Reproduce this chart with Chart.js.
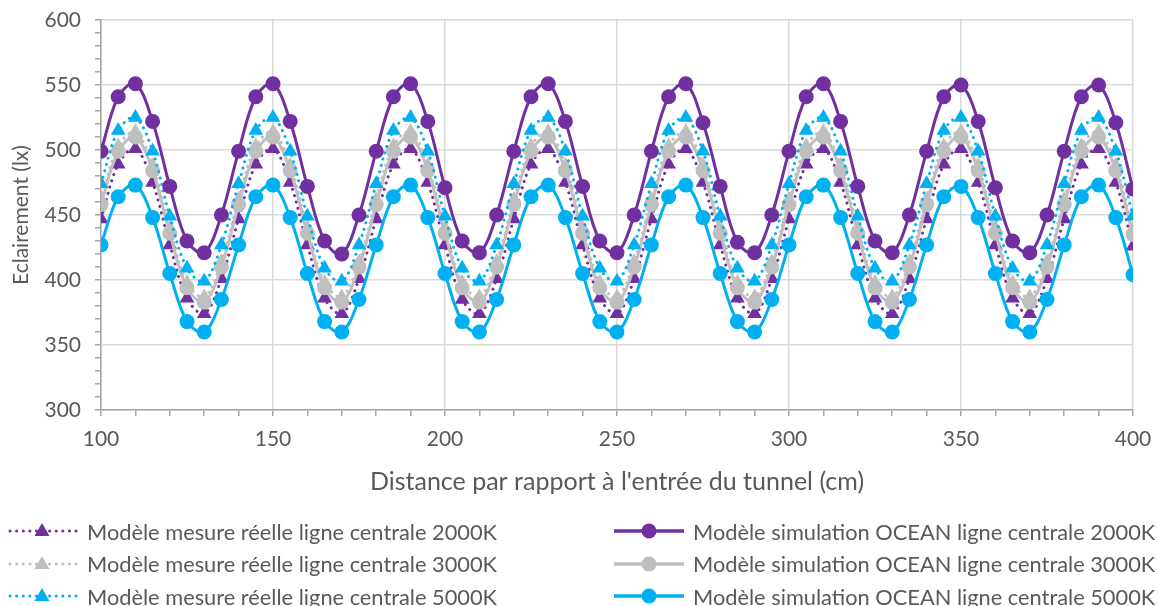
<!DOCTYPE html>
<html>
<head>
<meta charset="utf-8">
<script src="https://cdn.jsdelivr.net/npm/chart.js@4.4.0/dist/chart.umd.min.js"></script>
<style>
  body { margin: 0; background: #fff; width: 1158px; height: 606px; overflow: hidden; font-family: Lato, sans-serif; }
  #wrap { position: absolute; left: 0; top: 0; width: 1158px; height: 500px; }
  #legend { position: absolute; left: 0; top: 0; width: 1158px; height: 606px; }
  .item { position: absolute; display: flex; align-items: center; height: 30px; font-size: 21.8px; color: #595959; white-space: nowrap; }
  .item svg { margin-right: 5px; }
</style>
</head>
<body>
<div id="wrap"><canvas id="chart"></canvas></div>
<div id="legend"></div>
<script>
// distance from tunnel entrance (cm)
const distances = [100, 105, 110, 115, 120, 125, 130, 135, 140, 145, 150, 155, 160, 165, 170, 175,
  180, 185, 190, 195, 200, 205, 210, 215, 220, 225, 230, 235, 240, 245, 250, 255,
  260, 265, 270, 275, 280, 285, 290, 295, 300, 305, 310, 315, 320, 325, 330, 335,
  340, 345, 350, 355, 360, 365, 370, 375, 380, 385, 390, 395, 400];

// measured model, centre line
const mesure2000 = [447, 489, 501, 475, 427, 386, 374, 401, 447, 489, 501, 475, 427, 386, 374, 401,
  447, 489, 501, 475, 427, 385, 374, 401, 447, 489, 501, 475, 427, 386, 374, 401,
  447, 489, 501, 475, 427, 386, 374, 401, 447, 489, 501, 475, 427, 386, 374, 401,
  447, 489, 501, 475, 427, 386, 374, 401, 447, 489, 501, 475, 426];
const mesure3000 = [462, 503, 514, 488, 440, 398, 387, 414, 462, 503, 514, 488, 440, 398, 387, 414,
  462, 503, 514, 488, 440, 398, 387, 414, 462, 503, 514, 488, 440, 398, 387, 414,
  462, 503, 514, 488, 440, 398, 387, 414, 462, 503, 514, 488, 440, 398, 387, 414,
  462, 503, 514, 488, 440, 398, 387, 414, 462, 503, 514, 488, 439];
const mesure5000 = [474, 515, 525, 499, 449, 409, 399, 427, 474, 515, 525, 499, 449, 409, 399, 427,
  474, 515, 525, 499, 449, 409, 399, 427, 474, 515, 525, 499, 449, 409, 399, 427,
  474, 515, 525, 499, 449, 409, 399, 427, 474, 515, 525, 499, 449, 409, 399, 427,
  474, 515, 525, 499, 449, 409, 399, 427, 474, 515, 525, 499, 449];

// OCEAN simulation, centre line
const simulation2000 = [499, 541, 551, 522, 472, 430, 421, 450, 499, 541, 551, 522, 472, 430, 420, 450,
  499, 541, 551, 522, 471, 430, 421, 450, 499, 541, 551, 522, 472, 430, 421, 450,
  499, 541, 551, 521, 472, 429, 421, 450, 499, 541, 551, 522, 472, 430, 421, 450,
  499, 541, 550, 522, 471, 430, 421, 450, 499, 541, 550, 521, 470];
const simulation3000 = [458, 499, 510, 484, 436, 394, 383, 410, 458, 499, 510, 484, 436, 394, 383, 410,
  458, 499, 510, 484, 436, 394, 383, 410, 458, 499, 510, 484, 436, 394, 383, 410,
  458, 499, 510, 484, 436, 394, 383, 410, 458, 499, 510, 484, 436, 394, 383, 410,
  458, 499, 510, 484, 436, 394, 383, 410, 458, 499, 510, 484, 435];
const simulation5000 = [427, 464, 473, 448, 405, 368, 360, 385, 427, 464, 473, 448, 405, 368, 360, 385,
  427, 464, 473, 448, 405, 368, 360, 385, 427, 464, 473, 448, 405, 368, 360, 385,
  427, 464, 473, 448, 405, 368, 360, 385, 427, 464, 473, 448, 405, 368, 360, 385,
  427, 464, 472, 448, 405, 368, 360, 385, 427, 464, 473, 448, 404];

const purple = '#7030a0';
const gray = '#bfbfbf';
const blue = '#00b0f0';
const textColor = '#595959';

const toPoints = vals => vals.map((v, i) => ({ x: distances[i], y: v }));

function mesureSet(label, data, color, order) {
  return {
    label: label,
    data: toPoints(data),
    borderColor: color,
    backgroundColor: color,
    borderWidth: 3,
    borderDash: [0.1, 6.5],
    borderCapStyle: 'round',
    pointStyle: 'triangle',
    pointRadius: 8.5,
    pointBorderWidth: 0,
    pointBackgroundColor: color,
    tension: 0.35,
    order: order,
    kind: 'mesure'
  };
}
function simulationSet(label, data, color, order) {
  return {
    label: label,
    data: toPoints(data),
    borderColor: color,
    backgroundColor: color,
    borderWidth: 3,
    pointStyle: 'circle',
    pointRadius: 7.5,
    pointBorderWidth: 0,
    pointBackgroundColor: color,
    tension: 0.35,
    order: order,
    kind: 'simulation'
  };
}

const datasets = [
  mesureSet('Modèle mesure réelle ligne centrale 2000K', mesure2000, purple, 6),
  mesureSet('Modèle mesure réelle ligne centrale 3000K', mesure3000, gray, 5),
  mesureSet('Modèle mesure réelle ligne centrale 5000K', mesure5000, blue, 3),
  simulationSet('Modèle simulation OCEAN ligne centrale 2000K', simulation2000, purple, 2),
  simulationSet('Modèle simulation OCEAN ligne centrale 3000K', simulation3000, gray, 4),
  simulationSet('Modèle simulation OCEAN ligne centrale 5000K', simulation5000, blue, 1)
];

const majorGrid = ctx => (ctx.tick && ctx.tick.value % 50 === 0) ? '#d9d9d9' : 'rgba(0,0,0,0)';
const majorLabel = v => (v % 50 === 0 ? v : '');

const ctx = document.getElementById('chart').getContext('2d');
const chart = new Chart(ctx, {
  type: 'line',
  data: { datasets: datasets },
  options: {
    responsive: true,
    maintainAspectRatio: false,
    animation: false,
    layout: { padding: { top: 20, right: 25, left: 0, bottom: 0 } },
    plugins: { legend: { display: false }, tooltip: { enabled: false } },
    scales: {
      x: {
        type: 'linear',
        min: 100,
        max: 400,
        afterFit: s => { s.height = 90; s.paddingLeft = 0; s.paddingRight = 0; },
        ticks: { stepSize: 10, autoSkip: false, maxRotation: 0, callback: majorLabel,
                 color: textColor, font: { family: 'Lato', size: 21 }, padding: 11 },
        grid: { color: majorGrid, lineWidth: 1.5, tickLength: 6, tickColor: '#a6a6a6', tickWidth: 1.5 },
        border: { color: '#a6a6a6', width: 1.5 },
        title: { display: true, text: "Distance par rapport à l'entrée du tunnel (cm)",
                 color: textColor, font: { family: 'Lato', size: 25 }, padding: { top: 0, bottom: 3 } }
      },
      y: {
        min: 300,
        max: 600,
        afterFit: s => { s.width = 101; s.paddingTop = 0; s.paddingBottom = 0; },
        ticks: { stepSize: 10, autoSkip: false, callback: majorLabel,
                 color: textColor, font: { family: 'Lato', size: 21 }, padding: 14 },
        grid: { color: majorGrid, lineWidth: 1.5, tickLength: 6, tickColor: '#a6a6a6', tickWidth: 1.5 },
        border: { color: '#a6a6a6', width: 1.5 },
        title: { display: true, text: 'Eclairement (lx)',
                 color: textColor, font: { family: 'Lato', size: 21 }, padding: { top: 9, bottom: 0 } }
      }
    }
  }
});

// legend: two columns, measures on the left, simulations on the right
const legend = document.getElementById('legend');
let mesureRow = 0, simulationRow = 0;
datasets.forEach(ds => {
  const isMesure = ds.kind === 'mesure';
  const row = isMesure ? mesureRow++ : simulationRow++;
  const item = document.createElement('div');
  item.className = 'item';
  item.style.left = (isMesure ? 6 : 612) + 'px';
  item.style.top = (516 + row * 32.5) + 'px';
  const c = ds.borderColor;
  const line = isMesure
    ? `<line x1="4" y1="15" x2="72" y2="15" stroke="${c}" stroke-width="3" stroke-linecap="round" stroke-dasharray="0.1 6.5"/>
       <polygon points="36,7 43.5,20 28.5,20" fill="${c}"/>`
    : `<line x1="2" y1="15" x2="72" y2="15" stroke="${c}" stroke-width="3.5"/>
       <circle cx="37" cy="15" r="7.5" fill="${c}"/>`;
  item.innerHTML = `<svg width="76" height="30">${line}</svg><span>${ds.label}</span>`;
  legend.appendChild(item);
});
</script>
</body>
</html>
